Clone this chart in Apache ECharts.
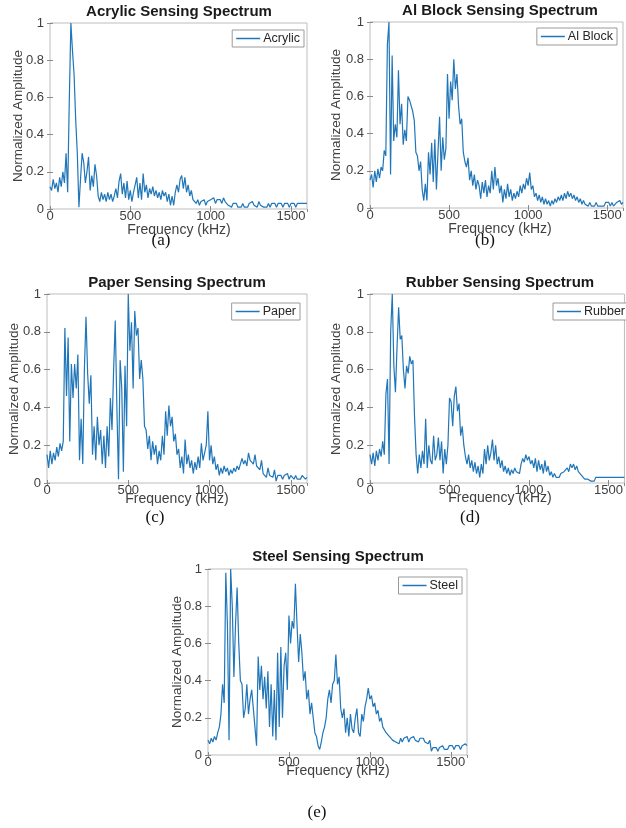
<!DOCTYPE html>
<html>
<head>
<meta charset="utf-8">
<script src="https://cdn.jsdelivr.net/npm/echarts@6/dist/echarts.min.js"></script>
<style>html,body{margin:0;padding:0;background:#fff;}#c{width:626px;height:828px;}</style>
</head>
<body>
<div id="c"></div>
<script>
const freq = [0,10,20,30,40,50,60,70,80,90,100,110,120,130,140,150,160,170,180,190,200,210,220,230,240,250,260,270,280,290,300,310,320,330,340,350,360,370,380,390,400,410,420,430,440,450,460,470,480,490,500,510,520,530,540,550,560,570,580,590,600,610,620,630,640,650,660,670,680,690,700,710,720,730,740,750,760,770,780,790,800,810,820,830,840,850,860,870,880,890,900,910,920,930,940,950,960,970,980,990,1000,1010,1020,1030,1040,1050,1060,1070,1080,1090,1100,1110,1120,1130,1140,1150,1160,1170,1180,1190,1200,1210,1220,1230,1240,1250,1260,1270,1280,1290,1300,1310,1320,1330,1340,1350,1360,1370,1380,1390,1400,1410,1420,1430,1440,1450,1460,1470,1480,1490,1500,1510,1520,1530,1540,1550,1560,1570,1580,1590,1600];

const acrylic = [
0.12,0.10,0.16,0.11,0.14,0.09,0.17,0.12,0.20,0.14,
0.30,0.09,0.58,1.00,0.85,0.72,0.48,0.30,0.01,0.16,
0.30,0.25,0.14,0.20,0.28,0.10,0.18,0.12,0.24,0.18,
0.07,0.04,0.09,0.05,0.08,0.04,0.09,0.05,0.08,0.04,
0.07,0.11,0.06,0.15,0.19,0.08,0.14,0.06,0.15,0.05,
0.10,0.04,0.09,0.13,0.17,0.06,0.14,0.05,0.19,0.09,
0.13,0.06,0.11,0.08,0.12,0.07,0.10,0.06,0.09,0.05,
0.10,0.07,0.09,0.04,0.08,0.02,0.07,0.02,0.09,0.13,
0.09,0.16,0.18,0.11,0.17,0.09,0.13,0.07,0.10,0.05,
0.06,0.03,0.05,0.02,0.04,0.03,0.05,0.02,0.04,0.03,
0.05,0.04,0.06,0.03,0.05,0.04,0.05,0.03,0.06,0.04,
0.03,0.02,0.03,0.01,0.03,0.02,0.03,0.01,0.02,0.01,
0.03,0.01,0.02,0.01,0.03,0.02,0.04,0.02,0.03,0.01,
0.04,0.02,0.03,0.01,0.02,0.01,0.03,0.01,0.03,0.02,
0.03,0.01,0.03,0.02,0.03,0.01,0.03,0.02,0.03,0.01,
0.03,0.02,0.03,0.01,0.03,0.02,0.03,0.02,0.03,0.02,
0.03];

const alBlock = [
0.15,0.18,0.11,0.20,0.14,0.21,0.16,0.22,0.20,0.31,
0.28,0.88,1.00,0.18,0.82,0.36,0.45,0.38,0.74,0.45,
0.56,0.34,0.42,0.36,0.60,0.58,0.57,0.52,0.47,0.30,
0.28,0.20,0.25,0.10,0.04,0.13,0.04,0.30,0.18,0.35,
0.14,0.37,0.10,0.30,0.49,0.20,0.38,0.26,0.32,0.72,
0.48,0.68,0.58,0.80,0.64,0.72,0.55,0.45,0.48,0.30,
0.25,0.22,0.27,0.15,0.20,0.12,0.18,0.10,0.15,0.12,
0.05,0.14,0.08,0.15,0.06,0.12,0.08,0.20,0.10,0.22,
0.12,0.16,0.08,0.12,0.03,0.10,0.05,0.13,0.06,0.10,
0.04,0.08,0.05,0.09,0.06,0.12,0.08,0.13,0.10,0.16,
0.12,0.19,0.10,0.12,0.06,0.08,0.04,0.07,0.03,0.06,
0.02,0.05,0.02,0.04,0.01,0.04,0.02,0.05,0.03,0.06,
0.04,0.07,0.04,0.08,0.05,0.09,0.06,0.08,0.05,0.07,
0.04,0.06,0.03,0.05,0.02,0.04,0.02,0.03,0.01,0.03,
0.01,0.02,0.01,0.03,0.01,0.02,0.01,0.02,0.01,0.03,
0.02,0.03,0.01,0.03,0.01,0.02,0.03,0.02,0.04,0.02,
0.03];

const paper = [
0.15,0.08,0.17,0.10,0.16,0.12,0.19,0.14,0.21,0.17,
0.22,0.82,0.46,0.77,0.22,0.63,0.45,0.63,0.50,0.68,
0.12,0.34,0.10,0.60,0.88,0.58,0.42,0.57,0.15,0.30,
0.12,0.35,0.20,0.28,0.10,0.25,0.08,0.30,0.14,0.45,
0.28,0.60,0.86,0.40,0.02,0.65,0.50,0.06,0.62,0.30,
1.00,0.70,0.85,0.50,0.91,0.78,0.82,0.55,0.65,0.55,
0.30,0.28,0.18,0.25,0.12,0.22,0.15,0.20,0.10,0.17,
0.12,0.25,0.15,0.38,0.25,0.41,0.30,0.35,0.22,0.26,
0.15,0.18,0.08,0.14,0.05,0.23,0.10,0.15,0.08,0.12,
0.05,0.11,0.07,0.14,0.08,0.21,0.12,0.16,0.20,0.38,
0.12,0.20,0.10,0.14,0.07,0.10,0.04,0.08,0.05,0.09,
0.06,0.08,0.04,0.07,0.05,0.08,0.06,0.09,0.07,0.10,
0.13,0.10,0.12,0.09,0.16,0.12,0.13,0.10,0.15,0.09,
0.10,0.07,0.12,0.05,0.06,0.03,0.08,0.04,0.05,0.03,
0.07,0.01,0.04,0.03,0.04,0.02,0.04,0.03,0.05,0.02,
0.04,0.03,0.02,0.04,0.02,0.03,0.02,0.04,0.03,0.02,
0.03];

const rubber = [
0.15,0.10,0.16,0.09,0.17,0.12,0.18,0.14,0.22,0.15,
0.47,0.55,0.10,0.80,1.00,0.62,0.48,0.72,0.93,0.76,
0.78,0.60,0.50,0.62,0.58,0.67,0.63,0.65,0.35,0.15,
0.05,0.15,0.08,0.17,0.10,0.34,0.08,0.20,0.12,0.10,
0.25,0.12,0.15,0.24,0.12,0.22,0.05,0.18,0.10,0.20,
0.45,0.43,0.30,0.46,0.51,0.38,0.42,0.25,0.30,0.20,
0.14,0.10,0.15,0.08,0.12,0.06,0.11,0.05,0.09,0.03,
0.10,0.05,0.18,0.10,0.20,0.12,0.16,0.23,0.12,0.20,
0.10,0.14,0.08,0.12,0.06,0.09,0.05,0.08,0.04,0.07,
0.05,0.08,0.06,0.07,0.05,0.10,0.13,0.11,0.15,0.12,
0.14,0.10,0.12,0.08,0.13,0.06,0.12,0.07,0.10,0.05,
0.12,0.06,0.09,0.04,0.06,0.03,0.05,0.03,0.04,0.03,
0.05,0.04,0.06,0.05,0.08,0.06,0.10,0.08,0.10,0.07,
0.09,0.06,0.07,0.04,0.05,0.02,0.03,0.02,0.03,0.01,
0.02,0.01,0.03,0.02,0.03,0.02,0.03,0.02,0.03,0.02,
0.03,0.02,0.03,0.02,0.03,0.02,0.03,0.02,0.03,0.02,
0.03];

const steel = [
0.08,0.06,0.09,0.07,0.10,0.08,0.12,0.15,0.22,0.38,
0.28,0.98,0.70,0.08,1.00,0.80,0.42,0.70,0.90,0.60,
0.40,0.38,0.20,0.25,0.38,0.22,0.30,0.35,0.34,0.15,
0.05,0.53,0.35,0.48,0.30,0.42,0.25,0.45,0.15,0.38,
0.10,0.35,0.08,0.55,0.15,0.58,0.20,0.48,0.55,0.35,
0.75,0.60,0.72,0.68,0.92,0.70,0.50,0.65,0.55,0.40,
0.45,0.30,0.35,0.22,0.28,0.20,0.12,0.10,0.05,0.03,
0.07,0.12,0.15,0.20,0.30,0.35,0.28,0.38,0.40,0.54,
0.38,0.42,0.25,0.20,0.25,0.12,0.20,0.10,0.22,0.14,
0.12,0.20,0.25,0.12,0.10,0.22,0.18,0.26,0.30,0.36,
0.30,0.32,0.26,0.28,0.22,0.24,0.18,0.20,0.15,0.16,
0.12,0.13,0.10,0.11,0.08,0.09,0.07,0.08,0.06,0.09,
0.07,0.09,0.08,0.10,0.07,0.09,0.08,0.10,0.08,0.09,
0.07,0.09,0.08,0.09,0.07,0.08,0.06,0.08,0.02,0.04,
0.03,0.04,0.02,0.04,0.03,0.05,0.03,0.04,0.03,0.05,
0.04,0.05,0.03,0.05,0.04,0.05,0.03,0.05,0.04,0.06,
0.05];

const xTicks = [0, 500, 1000, 1500];
const yTicks = [0, 0.2, 0.4, 0.6, 0.8, 1];

const panels = [
  {name:'Acrylic', title:'Acrylic Sensing Spectrum', caption:'(a)', values:acrylic,
   grid:{left:50, top:23, width:257, height:186}, titleXY:[179,12], ylab:[18,116], xlab:[179,230], legend:{right:322, top:30}, cap:[161,241]},
  {name:'Al Block', title:'Al Block Sensing Spectrum', caption:'(b)', values:alBlock,
   grid:{left:370, top:22, width:253, height:186}, titleXY:[500,11], ylab:[336,115], xlab:[500,229], legend:{right:9, top:28}, cap:[485,241]},
  {name:'Paper', title:'Paper Sensing Spectrum', caption:'(c)', values:paper,
   grid:{left:47, top:294, width:260, height:189}, titleXY:[177,283], ylab:[14,389], xlab:[177,499], legend:{right:326, top:303}, cap:[155,518]},
  {name:'Rubber', title:'Rubber Sensing Spectrum', caption:'(d)', values:rubber,
   grid:{left:370, top:294, width:259, height:189}, titleXY:[500,283], ylab:[336,389], xlab:[500,498], legend:{right:-3, top:303}, cap:[470,518]},
  {name:'Steel', title:'Steel Sensing Spectrum', caption:'(e)', values:steel,
   grid:{left:208, top:569, width:259, height:186}, titleXY:[338,557], ylab:[177,662], xlab:[338,771], legend:{right:164, top:577}, cap:[317,813]}
];

const FONT = "'Liberation Sans', Arial, Helvetica, sans-serif";
const TXT = '#404040';
const LINE = '#2076b8';
const FRAME = '#bdbdbd';

const option = {animation:false, backgroundColor:'#fff', grid:[], xAxis:[], yAxis:[], series:[], legend:[], graphic:[]};

panels.forEach((p, i) => {
  option.grid.push(Object.assign({show:true, borderColor:FRAME, borderWidth:1, backgroundColor:'#fff'}, p.grid));
  const tick = {show:true, inside:true, length:3, lineStyle:{color:'#8a8a8a'}};
  option.xAxis.push({type:'value', gridIndex:i, min:0, max:1600, interval:500, position:'bottom',
    axisLine:{show:false}, splitLine:{show:false}, axisTick:tick,
    axisLabel:{color:TXT, fontSize:13, fontFamily:FONT, margin:1, showMaxLabel:false,
      formatter:v => xTicks.indexOf(v) >= 0 ? String(v) : ''}});
  option.xAxis.push({type:'value', gridIndex:i, min:0, max:1600, interval:500, position:'top',
    axisLine:{show:false}, splitLine:{show:false}, axisTick:tick, axisLabel:{show:false}});
  option.yAxis.push({type:'value', gridIndex:i, min:0, max:1, interval:0.2, position:'left',
    axisLine:{show:false}, splitLine:{show:false}, axisTick:tick,
    axisLabel:{color:TXT, fontSize:13, fontFamily:FONT, margin:6,
      formatter:v => { const t = yTicks.find(y => Math.abs(y - v) < 1e-6); return t === undefined ? '' : (t === 0 ? '0' : t === 1 ? '1' : t.toFixed(1)); }}});
  option.yAxis.push({type:'value', gridIndex:i, min:0, max:1, interval:0.2, position:'right',
    axisLine:{show:false}, splitLine:{show:false}, axisTick:tick, axisLabel:{show:false}});
  option.series.push({name:p.name, type:'line', xAxisIndex:2*i, yAxisIndex:2*i,
    data:freq.map((f, k) => [f, p.values[k]]), showSymbol:false, symbol:'none',
    lineStyle:{color:LINE, width:1.2}, itemStyle:{color:LINE}});
  option.legend.push({data:[p.name], right:p.legend.right, top:p.legend.top, orient:'horizontal',
    icon:'rect', itemWidth:24, itemHeight:1.5, itemGap:4, padding:[2,4,2,4],
    borderColor:'#9a9a9a', borderWidth:1, backgroundColor:'#fff', selectedMode:false,
    textStyle:{color:'#262626', fontSize:12.5, fontFamily:FONT, padding:[0,0,0,-2]}});
  option.graphic.push({type:'text', x:p.titleXY[0], y:p.titleXY[1], style:{text:p.title, textAlign:'center', textVerticalAlign:'middle', font:"bold 15px " + FONT, fill:'#1a1a1a'}});
  option.graphic.push({type:'text', x:p.ylab[0], y:p.ylab[1], rotation:Math.PI/2, style:{text:'Normalized Amplitude', textAlign:'center', textVerticalAlign:'middle', font:"13.5px " + FONT, fill:TXT}});
  option.graphic.push({type:'text', x:p.xlab[0], y:p.xlab[1], style:{text:'Frequency (kHz)', textAlign:'center', textVerticalAlign:'middle', font:"14px " + FONT, fill:TXT}});
  option.graphic.push({type:'text', x:p.cap[0], y:p.cap[1], style:{text:p.caption, textAlign:'center', textVerticalAlign:'middle', font:"17px 'Liberation Serif', 'Times New Roman', serif", fill:'#111'}});
});

const chart = echarts.init(document.getElementById('c'), null, {renderer:'canvas'});
chart.setOption(option);
</script>
</body>
</html>
